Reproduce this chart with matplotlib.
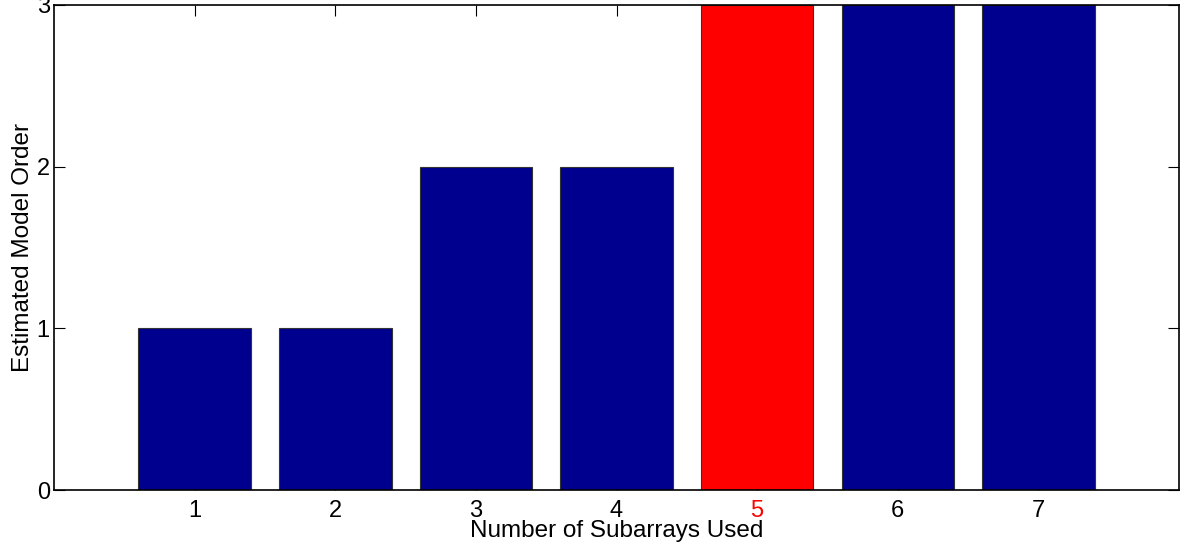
import numpy as np
import matplotlib.pyplot as plt

plt.rcParams['font.family'] = ['Liberation Sans', 'DejaVu Sans']

# number of subarrays vs. estimated model order
subarrays = [1, 2, 3, 4, 5, 6, 7]
model_order = [1, 1, 2, 2, 3, 3, 3]
chosen = 5

bar_colors = ['#ff0000' if n == chosen else '#00008f' for n in subarrays]

fig = plt.figure(figsize=(11.9, 5.5), dpi=100)
ax = fig.add_axes([0.0454, 0.109, 0.9454, 0.882])
ax.bar(subarrays, model_order, width=0.8, color=bar_colors,
       edgecolor='#333333', linewidth=0.8)
ax.set_axisbelow(True)

ax.set_xlim(0, 8)
ax.set_ylim(0, 3)
ax.set_xticks(subarrays)
ax.set_yticks([0, 1, 2, 3])
ax.tick_params(direction='in', top=True, right=True, length=8, width=0.8,
               labelsize=17)
ax.tick_params(axis='x', pad=7)
ax.tick_params(axis='y', pad=3)
for lbl, n in zip(ax.get_xticklabels(), subarrays):
    if n == chosen:
        lbl.set_color('#ff0000')
for sp in ax.spines.values():
    sp.set_linewidth(1.2)

ax.set_xlabel('Number of Subarrays Used', fontsize=17.5, labelpad=-1)
ax.set_ylabel('Estimated Model Order', fontsize=17.5, labelpad=2)

fig.savefig('out.png', dpi=100)
